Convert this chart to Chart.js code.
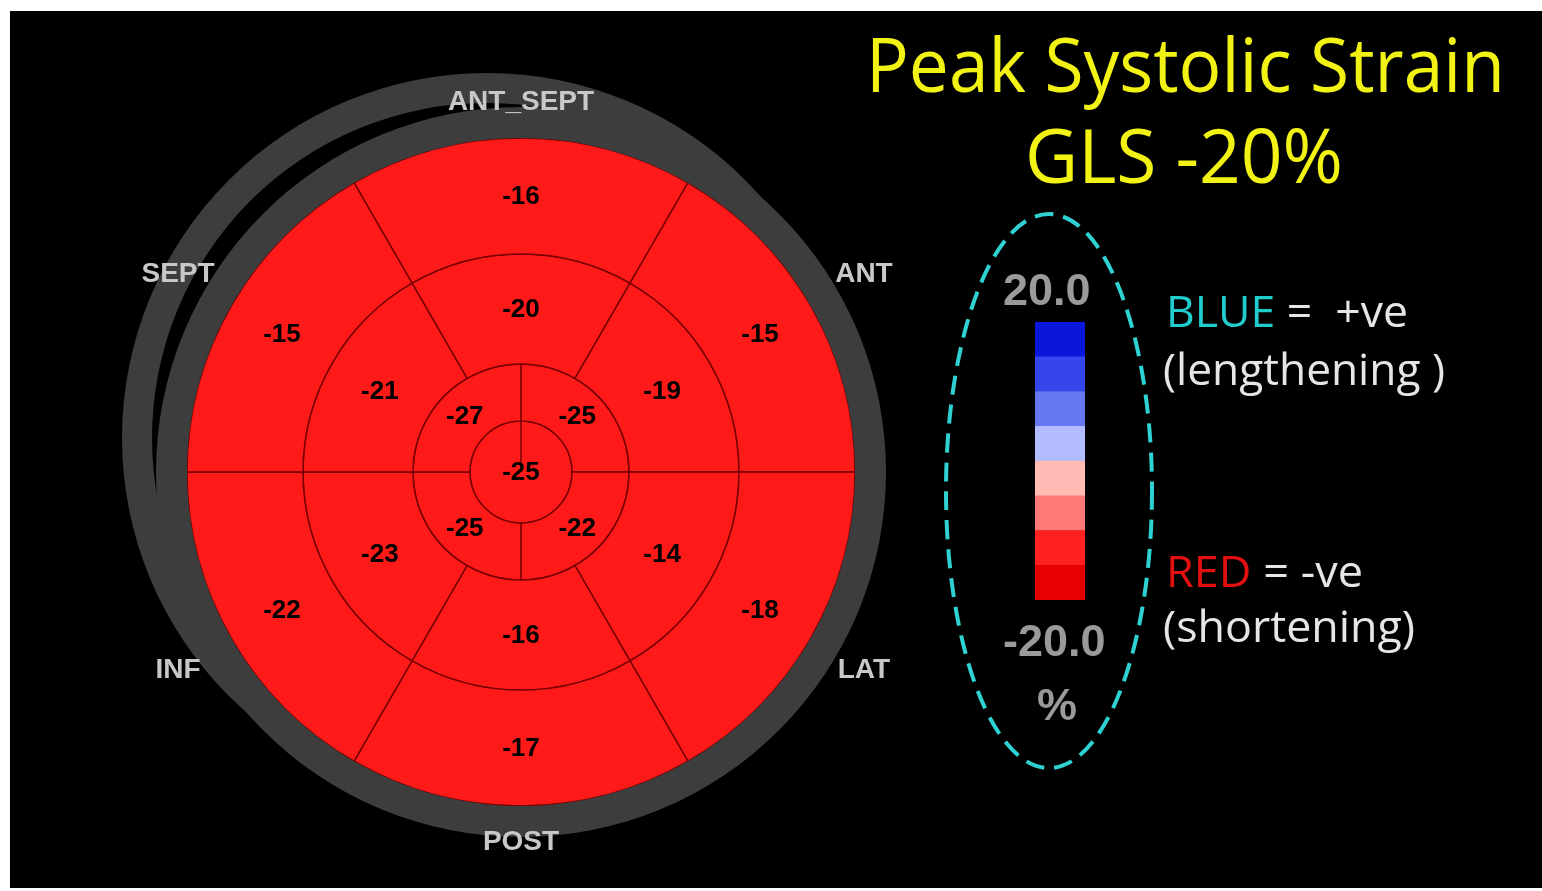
<!DOCTYPE html>
<html lang="en">
  <head>
    <meta charset="UTF-8" />
    <title>Peak Systolic Strain</title>
    <style>
      html,
      body {
        margin: 0;
        padding: 0;
        background: #fff;
        overflow: hidden;
      }
      #frame {
        position: absolute;
        left: 10px;
        top: 11px;
        width: 1532px;
        height: 877px;
        background: #000;
      }
      canvas {
        position: absolute;
      }
      .txt {
        position: absolute;
        white-space: nowrap;
        font-family: "Open Sans", "Noto Sans", sans-serif;
        transform-origin: 0 0;
      }
      .title {
        font-size: 75px;
        line-height: 75px;
        color: #f2f214;
      }
      .legend {
        font-size: 44px;
        line-height: 44px;
        color: #e6e6e6;
      }
    </style>
    <script src="https://cdn.jsdelivr.net/npm/chart.js"></script>
  </head>
  <body>
    <div id="frame"></div>

    <canvas id="ghostRing" width="730" height="730" style="left: 122px; top: 73px"></canvas>
    <canvas id="bullseye" width="840" height="800" style="left: 101px; top: 72px"></canvas>
    <canvas id="scaleBar" width="240" height="590" style="left: 930px; top: 200px"></canvas>

    <div class="txt title" data-w="639" style="left: 866px; top: 26px">Peak Systolic Strain</div>
    <div class="txt title" data-w="318" style="left: 1025px; top: 117px">GLS -20%</div>

    <div class="txt legend" data-w="242" style="left: 1166px; top: 288px">
      <span style="color: #22cccc">BLUE</span> =&nbsp; +ve
    </div>
    <div class="txt legend" data-w="282" style="left: 1163px; top: 346px">(lengthening )</div>
    <div class="txt legend" data-w="197" style="left: 1166px; top: 548px">
      <span style="color: #e41010">RED</span> = -ve
    </div>
    <div class="txt legend" data-w="252" style="left: 1163px; top: 603px">(shortening)</div>

    <script>
      // wall names, clockwise from 12 o'clock
      const walls = ["ANT_SEPT", "ANT", "LAT", "POST", "INF", "SEPT"];
      // peak systolic strain (%) per segment, clockwise from 12 o'clock
      const basalStrain = [-16, -15, -18, -17, -22, -15];
      const midStrain = [-20, -19, -14, -16, -23, -21];
      // apical quadrants: top-right, bottom-right, bottom-left, top-left
      const apicalStrain = [-25, -22, -25, -27];
      const apexStrain = [-25];

      // colour scale (%), bottom to top
      const scaleEdges = [-20, -15, -10, -5, 0, 5, 10, 15, 20];
      const scaleColors = [
        "#e60000",
        "#ff2020",
        "#ff7a76",
        "#ffbbb4",
        "#b2bcff",
        "#6878f4",
        "#3446ec",
        "#0a16da",
      ];

      const RED = "#ff1a1a";
      const BLUE = "#2a3cf0";
      const GRAY = "#3d3d3d";
      const LINE = "#780000";

      const strainColor = (v) => (v < 0 ? RED : BLUE);

      function ring(values, weight, rotation) {
        return {
          strain: values,
          data: values.map(() => 1), // equal segments of the 17-segment model
          backgroundColor: values.map(strainColor),
          borderColor: LINE,
          borderWidth: 1.5,
          weight: weight,
          rotation: rotation,
        };
      }

      const segmentLabels = {
        id: "segmentLabels",
        afterDatasetsDraw(chart) {
          const ctx = chart.ctx;
          ctx.save();
          ctx.textAlign = "center";
          ctx.textBaseline = "middle";
          ctx.font = 'bold 26px "Liberation Sans", Arial, sans-serif';
          ctx.fillStyle = "#000";
          chart.data.datasets.forEach((ds, i) => {
            if (!ds.strain) return;
            chart.getDatasetMeta(i).data.forEach((arc, j) => {
              const p =
                arc.circumference >= Math.PI * 2 - 1e-6
                  ? { x: arc.x, y: arc.y }
                  : arc.getCenterPoint();
              ctx.fillText(String(ds.strain[j]), p.x, p.y + 1);
            });
          });

          // wall names around the outside, on the basal segment directions
          ctx.font = 'bold 28px "Liberation Sans", Arial, sans-serif';
          ctx.fillStyle = "#c8c8c8";
          chart.getDatasetMeta(1).data.forEach((arc, j) => {
            const a = (arc.startAngle + arc.endAngle) / 2;
            const r = Math.abs(Math.cos(a)) < 0.1 ? 370 : 396;
            ctx.fillText(walls[j], arc.x + Math.cos(a) * r, arc.y + Math.sin(a) * r);
          });
          ctx.restore();
        },
      };

      // faint duplicate of the outer gray ring, shifted up-left
      new Chart(document.getElementById("ghostRing"), {
        type: "doughnut",
        data: {
          datasets: [
            {
              data: [1],
              backgroundColor: GRAY,
              borderWidth: 0,
              offset: 0,
              hoverOffset: 0,
            },
          ],
        },
        options: {
          responsive: false,
          animation: false,
          events: [],
          radius: 365,
          cutout: 335,
          plugins: { legend: { display: false }, tooltip: { enabled: false } },
        },
      });

      new Chart(document.getElementById("bullseye"), {
        type: "doughnut",
        data: {
          datasets: [
            {
              data: [1],
              backgroundColor: GRAY,
              borderWidth: 0,
              weight: 31,
            },
            ring(basalStrain, 116, -30),
            ring(midStrain, 110, -30),
            ring(apicalStrain, 57, 0),
            ring(apexStrain, 51, 0),
          ],
        },
        options: {
          responsive: false,
          animation: false,
          events: [],
          radius: 365,
          cutout: 0,
          offset: 0,
          hoverOffset: 0,
          plugins: { legend: { display: false }, tooltip: { enabled: false } },
        },
        plugins: [segmentLabels],
      });

      const scaleDecor = {
        id: "scaleDecor",
        beforeDraw(chart) {
          const ctx = chart.ctx;
          ctx.save();
          ctx.strokeStyle = "#2fd2d2";
          ctx.lineWidth = 4;
          ctx.setLineDash([19, 10]);
          ctx.beginPath();
          ctx.ellipse(119, 291, 103, 277, 0, 0, Math.PI * 2);
          ctx.stroke();
          ctx.restore();
        },
        afterDraw(chart) {
          const ctx = chart.ctx;
          const y = chart.scales.y;
          const lo = scaleEdges[0];
          const hi = scaleEdges[scaleEdges.length - 1];
          ctx.save();
          ctx.font = 'bold 45px "Liberation Sans", Arial, sans-serif';
          ctx.fillStyle = "#9a9a9a";
          ctx.textAlign = "left";
          ctx.textBaseline = "alphabetic";
          ctx.fillText(hi.toFixed(1), 73, y.getPixelForValue(hi) - 17);
          ctx.fillText(lo.toFixed(1), 73, y.getPixelForValue(lo) + 56);
          ctx.textAlign = "center";
          ctx.fillText("%", 127, y.getPixelForValue(lo) + 120);
          ctx.restore();
        },
      };

      new Chart(document.getElementById("scaleBar"), {
        type: "bar",
        data: {
          labels: ["strain"],
          datasets: scaleColors.map((c, i) => ({
            data: [[scaleEdges[i], scaleEdges[i + 1]]],
            backgroundColor: c,
            borderWidth: 0,
            grouped: false,
            barPercentage: 1,
            categoryPercentage: 1,
          })),
        },
        options: {
          responsive: false,
          animation: false,
          events: [],
          layout: { padding: { left: 105, right: 85, top: 122, bottom: 190 } },
          scales: {
            x: { display: false },
            y: { display: false, min: scaleEdges[0], max: scaleEdges[scaleEdges.length - 1] },
          },
          plugins: { legend: { display: false }, tooltip: { enabled: false } },
        },
        plugins: [scaleDecor],
      });

      // squeeze the headline and legend text to the widths of the original lettering
      document.querySelectorAll("[data-w]").forEach((el) => {
        const w = el.getBoundingClientRect().width;
        el.style.transform = "scaleX(" + +el.dataset.w / w + ")";
      });
    </script>
  </body>
</html>
